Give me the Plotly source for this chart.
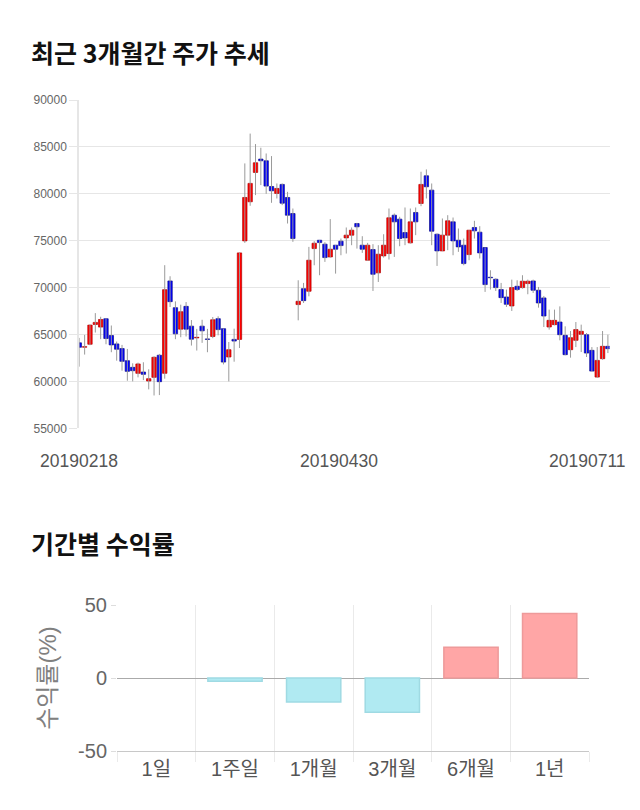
import plotly.graph_objects as go

# ---- candlestick data ----
opens = [64110, 63650, 63960, 66070, 65790, 66680, 64890, 64000, 63500, 62210,
         61500, 60860, 61000, 60040, 60430, 62790, 60860, 70710, 67860, 65570,
         68000, 65890, 64640, 65890, 64510, 64790, 66690, 65620, 62600, 64480,
         64480, 74980, 79150, 82280, 83700, 83520, 80780, 80040, 81000, 79610,
         77900, 68190, 69890, 69610, 74160, 75050, 74630, 73270, 74520, 74950,
         75300, 75590, 76830, 74520, 72920, 74060, 71570, 73380, 73630, 77720,
         77300, 75870, 74770, 78010, 78970, 81920, 80390, 75690, 73910, 75590,
         77010, 75050, 74520, 73520, 76410, 75910, 74270, 71100, 70890, 69790,
         69000, 68040, 70140, 70000, 70430, 70710, 69720, 68900, 65800, 66050,
         66330, 64910, 63380, 64380, 65020, 64980, 63310, 60460, 62420, 63740]
highs = [64640, 64960, 66070, 67280, 66890, 66680, 65960, 64250, 63890, 63460,
         61930, 62000, 62040, 61290, 62680, 62930, 72390, 71210, 68530, 68180,
         68460, 66540, 65600, 66570, 65600, 66860, 66940, 65620, 64200, 65620,
         73700, 83240, 86420, 85300, 84910, 84300, 84020, 81100, 81100, 80210,
         78430, 70780, 70500, 74340, 74950, 75050, 74840, 77300, 74520, 75230,
         76410, 76410, 76900, 75480, 74770, 74630, 74520, 75690, 78430, 77900,
         77550, 78540, 78430, 78540, 82350, 82600, 81100, 75770, 77370, 77720,
         77470, 76300, 75230, 76120, 77120, 76550, 74270, 71850, 71000, 70500,
         69790, 70850, 70780, 71320, 70850, 70850, 70070, 69110, 67650, 67650,
         68000, 65870, 65370, 66330, 66050, 65160, 63660, 63660, 65370, 64980]
lows = [61570, 62860, 63860, 65210, 64500, 63960, 63110, 62210, 61140, 60070,
        60000, 60430, 60140, 59150, 58500, 58540, 60290, 67930, 64500, 64710,
        64790, 63820, 63290, 64110, 63110, 64610, 64910, 61810, 60000, 62100,
        63560, 74770, 78720, 79860, 80930, 80000, 79040, 79500, 78790, 76830,
        74880, 66510, 68360, 69070, 72380, 71320, 72740, 73200, 71490, 73450,
        73630, 74520, 74160, 73700, 72850, 69640, 70600, 73200, 72990, 73270,
        74410, 74520, 74700, 75590, 78680, 79500, 74520, 72310, 73910, 73990,
        73450, 73810, 72380, 72920, 75230, 73100, 69540, 69790, 69640, 68360,
        67940, 67510, 69640, 69890, 69290, 69430, 67860, 65800, 65520, 65980,
        64380, 62780, 62530, 63660, 63130, 62600, 61100, 60390, 62310, 63020]
closes = [63640, 63700, 66000, 66290, 66600, 64570, 63890, 63430, 62140, 61070,
          61140, 61860, 60750, 60290, 62570, 59970, 69780, 68500, 65070, 67430,
          65570, 64500, 64700, 65390, 64480, 66570, 65520, 62060, 63380, 64300,
          73700, 79610, 81110, 83310, 83520, 80820, 80320, 80570, 79000, 77720,
          75230, 68540, 68610, 72920, 74730, 74800, 73200, 74090, 74090, 74480,
          75590, 76120, 76480, 74090, 74520, 71420, 73560, 74520, 77440, 77010,
          75230, 75300, 77010, 77010, 81000, 80750, 76010, 73910, 75590, 77120,
          74980, 74340, 72560, 76120, 76050, 73700, 70320, 71050, 70000, 68930,
          68220, 70000, 69790, 70680, 70680, 69720, 68360, 66970, 66510, 66510,
          64980, 62850, 64660, 65520, 65340, 63020, 61100, 62240, 63740, 63490]
date_labels = ["20190218", "20190430", "20190711"]
date_label_idx = [0, 50, 99]

# ---- period return data ----
periods = ["1일", "1주일", "1개월", "3개월", "6개월", "1년"]
returns = [0.0, -2.3, -16.4, -23.4, 21.1, 44.1]
ret_ticks = [-50, 0, 50]
ret_tick_text = ["-50", "0", "50"]

W, H = 640, 810
FONT = "Liberation Sans, Arial, Noto Sans CJK KR, sans-serif"

idx = list(range(len(opens)))
body_base = [min(o, c) for o, c in zip(opens, closes)]
body_h = [max(abs(c - o), 50) for o, c in zip(opens, closes)]
body_col = ["#FF0000" if c >= o else "#0000FF" for o, c in zip(opens, closes)]
body_line = ["#b00000" if c >= o else "#10108a" for o, c in zip(opens, closes)]

wx, wy = [], []
for i, hi, lo in zip(idx, highs, lows):
    wx += [i, i, None]
    wy += [lo, hi, None]

fig = go.Figure()
fig.add_trace(go.Scatter(x=wx, y=wy, mode="lines",
                         line=dict(color="#9a9a9a", width=1),
                         xaxis="x", yaxis="y", hoverinfo="skip"))
fig.add_trace(go.Bar(x=idx, y=body_h, base=body_base, width=0.82,
                     marker=dict(color=body_col, line=dict(color=body_line, width=0.7)),
                     xaxis="x", yaxis="y"))

ret_col = ["#FFA6A6" if r > 0 else ("#B0EAF2" if r < 0 else "rgba(0,0,0,0)") for r in returns]
ret_line = ["#EE9A9A" if r > 0 else ("#9FDAE3" if r < 0 else "rgba(0,0,0,0)") for r in returns]
fig.add_trace(go.Bar(x=periods, y=returns,
                     marker=dict(color=ret_col, line=dict(color=ret_line, width=1.5)),
                     xaxis="x2", yaxis="y2"))

def px_x(p):
    return p / W

def px_y(p):
    return 1 - p / H

annotations = [
    dict(text="<b>최근 3개월간 주가 추세</b>", x=px_x(29), y=px_y(52), xref="paper", yref="paper",
         xanchor="left", yanchor="middle", showarrow=False,
         font=dict(size=25, color="#111", family="Noto Sans CJK KR")),
    dict(text="<b>기간별 수익률</b>", x=px_x(29), y=px_y(543), xref="paper", yref="paper",
         xanchor="left", yanchor="middle", showarrow=False,
         font=dict(size=25, color="#111", family="Noto Sans CJK KR")),
]
shifts = [0, -7, -20]
for lab, i, sh in zip(date_labels, date_label_idx, shifts):
    annotations.append(dict(text=lab, x=i, y=px_y(461), xref="x", yref="paper",
                            xanchor="center", yanchor="middle", xshift=sh, showarrow=False,
                            font=dict(size=17.5, color="#555", family=FONT)))

fig.update_layout(
    width=W, height=H, autosize=False,
    margin=dict(l=0, r=0, t=0, b=0, pad=0, autoexpand=False),
    paper_bgcolor="white", plot_bgcolor="white",
    showlegend=False, bargap=0.31,
    annotations=annotations,
    xaxis=dict(domain=[px_x(79.3), px_x(609.5)], range=[0, 99.3], automargin=False,
               showgrid=False, zeroline=False, showticklabels=False, ticks="",
               anchor="y"),
    yaxis=dict(domain=[px_y(428.3), px_y(100)], range=[55000, 90000], automargin=False,
               dtick=5000, tick0=55000, tickformat="d",
               showgrid=True, gridcolor="#e6e6e6", gridwidth=1,
               zeroline=False, showline=True, linecolor="#e6e6e6", linewidth=2,
               ticks="outside", ticklen=8, tickcolor="#e6e6e6",
               tickfont=dict(size=12, color="#666", family=FONT),
               anchor="x"),
    xaxis2=dict(domain=[px_x(117), px_x(589)], type="category", automargin=False,
                tickson="boundaries", showgrid=True, gridcolor="#eaeaea",
                ticks="outside", ticklen=10, tickcolor="#eaeaea",
                showline=True, linecolor="#c8c8c8", linewidth=1,
                tickfont=dict(size=20, color="#555", family=FONT),
                zeroline=False, anchor="y2"),
    yaxis2=dict(domain=[px_y(751), px_y(605)], range=[-50, 50], automargin=False,
                tickvals=ret_ticks, ticktext=ret_tick_text,
                showgrid=True, gridcolor="#e0e0e0",
                zeroline=True, zerolinecolor="#aaaaaa", zerolinewidth=1,
                ticks="outside", ticklen=5, tickcolor="#dddddd",
                tickfont=dict(size=20, color="#666", family=FONT),
                title=dict(text="수익률(%)", font=dict(size=24, color="#808080", family=FONT), standoff=14),
                anchor="x2"),
)

fig.write_html("out.html", config={"responsive": False},
               post_script="document.body.style.margin='0';document.documentElement.style.margin='0';")
